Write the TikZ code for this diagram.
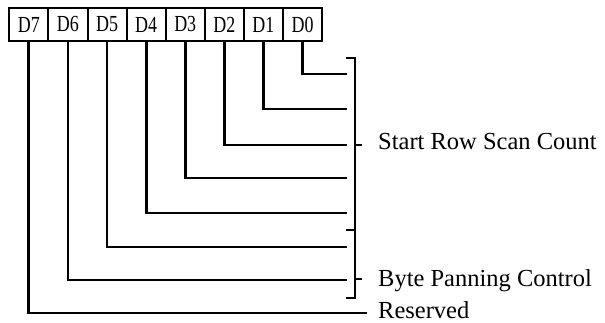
\documentclass[tikz,border=0pt]{standalone}
\usepackage{fontspec}
\setmainfont{Liberation Serif}
\begin{document}
\begin{tikzpicture}[x=1pt,y=-1pt,
  bitbox/.style={draw,line width=2pt,minimum width=39.1pt,minimum height=33pt,inner sep=0pt,outer sep=0pt,
    font=\fontsize{23}{23}\selectfont},
  wire/.style={line width=2.8pt,line cap=rect},
  brk/.style={line width=2.8pt},
  lbl/.style={anchor=base west,inner sep=0pt,font=\fontsize{24.5}{26}\selectfont}]
\useasboundingbox (0,0) rectangle (605,323);
% bit boxes
\foreach \n/\i in {7/0,6/1,5/2,4/3,3/4,2/5,1/6,0/7}{
  \node[bitbox] (d\n) at ({28.85+39.1*\i},24.5) {\scalebox{0.78}[1]{D\n}};
}
% end points of the wires
\coordinate (e0) at (346,74);
\coordinate (e1) at (346,109);
\coordinate (e2) at (346,145);
\coordinate (e3) at (346,178);
\coordinate (e4) at (346,213);
\coordinate (e5) at (346,247);
\coordinate (e6) at (346,280);
\coordinate (e7) at (366,313);
\foreach \n in {0,...,7}{
  \draw[wire] (d\n.south) |- (e\n);
}
% brackets
\coordinate (b1t) at (346,58);
\coordinate (b1b) at (346,230);
\coordinate (b2b) at (346,298);
\draw[brk] (b1t) -- ++(9,0) coordinate (bt) -- (bt |- b2b) -- (b2b);
\draw[brk] (b1b) -- (bt |- b1b);
\coordinate (m1) at (355,145);
\coordinate (m2) at (355,279);
\draw[brk] (m1) -- ++(7,0);
\draw[brk] (m2) -- ++(7,0);
% labels
\node[lbl] (l1) at (378,150) {Start Row Scan Count};
\node[lbl] (l2) at (378,286) {Byte Panning Control};
\node[lbl] (l3) at (378,318.5) {Reserved};
\end{tikzpicture}
\end{document}
